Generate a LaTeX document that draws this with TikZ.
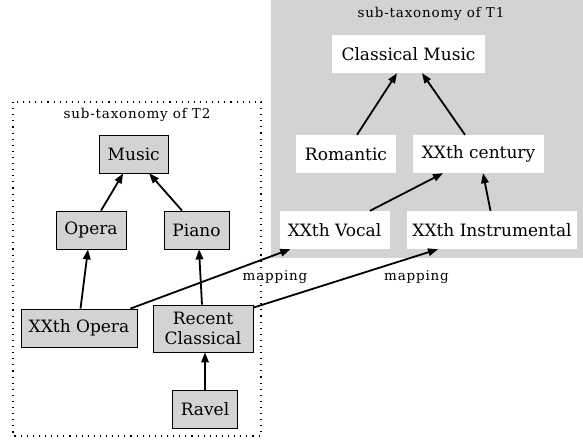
\documentclass[tikz,border=0pt]{standalone}
\usepackage{fontspec}
\setmainfont{DejaVu Serif}
\newfontfamily\smallfont[LetterSpace=6]{DejaVu Serif}
\usetikzlibrary{arrows.meta}
\definecolor{boxgray}{RGB}{211,211,211}
\tikzset{
  lnode/.style={draw=black, line width=0.8pt, fill=boxgray, inner sep=0pt, font=\fontsize{17}{19.5}\selectfont},
  rnode/.style={fill=white, inner sep=0pt, font=\fontsize{17}{19.5}\selectfont},
  edgearrow/.style={line width=1.8pt, -{Triangle[length=10pt,width=7.5pt]}},
  smalllabel/.style={inner sep=0pt, font=\smallfont\fontsize{13.5}{16}\selectfont},
}
\begin{document}
\begin{tikzpicture}[x=1pt,y=-1pt]
\useasboundingbox (0,0) rectangle (583,441);
% T1 background
\fill[boxgray] (271,0) rectangle (583,258);
\node[smalllabel] (t1title) at (431,14) {sub-taxonomy of T1};
% T2 dotted frame
\draw[line width=1.1pt, dash pattern=on 1.1pt off 5pt] (13,102) rectangle (261,436);
\node[smalllabel] (t2title) at (137,115) {sub-taxonomy of T2};

% T1 nodes
\node[rnode, minimum width=153pt, minimum height=38pt] (classical) at (408.5,54) {Classical Music};
\node[rnode, minimum width=100pt, minimum height=38pt] (romantic) at (346,154) {Romantic};
\node[rnode, minimum width=131pt, minimum height=38pt] (xxcentury) at (478.5,154) {XXth century};
\node[rnode, minimum width=110pt, minimum height=38pt] (xxvocal) at (334.5,230) {XXth Vocal};
\node[rnode, minimum width=170pt, minimum height=38pt] (xxinstr) at (492,230) {XXth Instrumental};

% T2 nodes
\node[lnode, minimum width=69pt, minimum height=38pt] (music) at (133.7,154) {Music};
\node[lnode, minimum width=70pt, minimum height=38pt] (opera) at (91,230) {Opera};
\node[lnode, minimum width=65pt, minimum height=38pt] (piano) at (196.5,230) {Piano};
\node[lnode, minimum width=116pt, minimum height=38pt] (xxopera) at (79,328) {XXth Opera};
\node[lnode, minimum width=100pt, minimum height=47pt, align=center] (recent) at (203,328.5) {Recent\\Classical};
\node[lnode, minimum width=65pt, minimum height=38pt] (ravel) at (205,409) {Ravel};

% T2 edges
\draw[edgearrow] ([xshift=10pt]opera.north) -- ([xshift=-10.5pt]music.south);
\draw[edgearrow] ([xshift=-14.5pt]piano.north) -- ([xshift=15.5pt]music.south);
\draw[edgearrow] ([xshift=1.5pt]xxopera.north) -- ([xshift=-3pt]opera.south);
\draw[edgearrow] ([xshift=-1pt]recent.north) -- ([xshift=2.5pt]piano.south);
\draw[edgearrow] (ravel.north) -- ([xshift=2pt]recent.south);

% T1 edges
\draw[edgearrow] ([xshift=11pt]romantic.north) -- ([xshift=-11.5pt]classical.south);
\draw[edgearrow] ([xshift=-13.5pt]xxcentury.north) -- ([xshift=13.5pt]classical.south);
\draw[edgearrow] ([xshift=35.5pt]xxvocal.north) -- ([xshift=-35.5pt]xxcentury.south);
\draw[edgearrow] ([xshift=-1.5pt]xxinstr.north) -- ([xshift=4.5pt]xxcentury.south);

% mappings
\draw[edgearrow] ([xshift=-7pt]xxopera.north east) -- ([xshift=11pt]xxvocal.south west);
\draw[edgearrow] ([yshift=-3pt]recent.north east) -- ([xshift=-54pt]xxinstr.south);
\node[smalllabel] (map1) at (275,277) {mapping};
\node[smalllabel] (map2) at (416.5,277) {mapping};
\end{tikzpicture}
\end{document}
